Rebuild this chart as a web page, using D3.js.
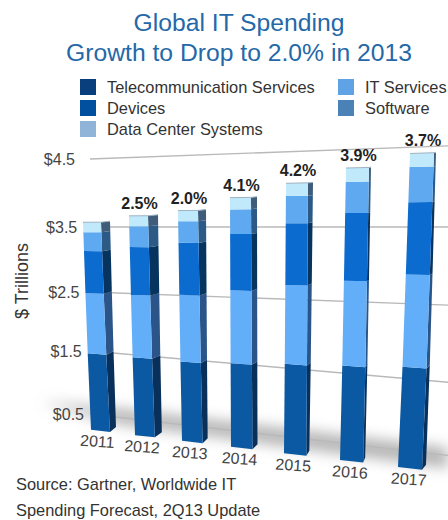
<!DOCTYPE html>
<html>
<head>
<meta charset="utf-8">
<script src="https://cdn.jsdelivr.net/npm/d3@7"></script>
<style>
  html, body { margin: 0; padding: 0; background: #fff; }
  svg { display: block; font-family: "Liberation Sans", Arial, sans-serif; }
</style>
</head>
<body>
<svg id="chart" width="448" height="520"></svg>
<script>
// Spending by segment, $ trillions
const years = [2011, 2012, 2013, 2014, 2015, 2016, 2017];
const telecom = [1.47, 1.47, 1.47, 1.51, 1.57, 1.61, 1.66];
const itServices = [1.01, 1.01, 1.04, 1.09, 1.13, 1.17, 1.22];
const devices = [0.65, 0.72, 0.76, 0.80, 0.85, 0.90, 0.93];
const software = [0.29, 0.31, 0.31, 0.34, 0.36, 0.40, 0.44];
const dataCenter = [0.15, 0.15, 0.15, 0.16, 0.17, 0.18, 0.17];
const growthLabels = [null, "2.5%", "2.0%", "4.1%", "4.2%", "3.9%", "3.7%"];
const tickValues = [0.5, 1.5, 2.5, 3.5, 4.5];
const tickLabels = ["$0.5", "$1.5", "$2.5", "$3.5", "$4.5"];
const legendLeft = ["Telecommunication Services", "Devices", "Data Center Systems"];
const legendRight = ["IT Services", "Software"];

const series = [telecom, itServices, devices, software, dataCenter];
const frontColors = ["#0b58a3", "#63aef8", "#0b6bcf", "#5fa9f0", "#c0e9fc"];
const sideColors = ["#08305a", "#2b5488", "#07335f", "#2c5a86", "#3f5d7b"];

const svg = d3.select("#chart");

// The back wall is seen in perspective: the value scale differs at its two ends.
const axisDomain = [0.35, ...tickValues];
const leftX = 90, rightX = 445;
const yLeft = d3.scaleLinear().domain(axisDomain).range([429, 414, 351, 292, 227, 159]).clamp(true);
const yRight = d3.scaleLinear().domain(axisDomain).range([472, 455, 382, 305, 227, 146]).clamp(true);
const along = d3.scaleLinear().domain([leftX, rightX]).range([0, 1]);
const wallY = (v, x) => d3.interpolateNumber(yLeft(v), yRight(v))(along(x));

// Bars lean with the camera, so their foot and head sit on separate x scales.
const baseX = d3.scaleLinear().domain(years).range([91, 135, 182, 231, 284, 340, 398]);
const headX = d3.scaleLinear().domain(years).range([83, 129, 178, 230, 286, 346, 410]);
const baseW = d3.scaleLinear().domain([2011, 2017]).range([19, 24]);
const headW = d3.scaleLinear().domain([2011, 2017]).range([18, 24]);
const sideBase = d3.scaleLinear().domain(years).range([6, 7, 5, 5, 3, 2, 4]);
const sideHead = d3.scaleLinear().domain(years).range([9, 10, 8, 6, 5, 2, 2]);
const sideLift = d3.scaleLinear().domain([0, 4.5]).range([5, 0]);

const totals = years.map((_, i) => d3.sum(series, s => s[i]));

// Floor shadow
const defs = svg.append("defs");
defs.append("filter").attr("id", "soft").attr("x", "-20%").attr("y", "-100%").attr("width", "140%").attr("height", "300%")
  .append("feGaussianBlur").attr("stdDeviation", 7);
const floorLine = d3.line().x(d => d[0]).y(d => d[1]);
svg.append("path")
  .attr("d", floorLine([[40, 402], [130, 410], [448, 448], [448, 468], [120, 424]]) + "Z")
  .attr("fill", "#9a9a9a").attr("opacity", 0.75).attr("filter", "url(#soft)");

// Wall gridlines
svg.append("g").selectAll("line").data(tickValues).join("line")
  .attr("x1", leftX).attr("x2", rightX + 3)
  .attr("y1", d => wallY(d, leftX)).attr("y2", d => wallY(d, rightX + 3))
  .attr("stroke", "#b9b9b9").attr("stroke-width", 1.4);

// Tick labels step inward down the axis
const tickX = d3.scaleLinear().domain([4.5, 0.5]).range([75, 84]);
svg.append("g").selectAll("text").data(tickValues).join("text")
  .attr("x", d => tickX(d)).attr("y", d => wallY(d, leftX) + 6)
  .attr("text-anchor", "end").attr("font-size", 16).attr("fill", "#444")
  .text((d, i) => tickLabels[i]);

svg.append("text")
  .attr("transform", "translate(28,281) rotate(-90)")
  .attr("text-anchor", "middle").attr("font-size", 18).attr("fill", "#333")
  .text("$ Trillions");

// Stacked columns
const barG = svg.append("g").selectAll("g").data(years).join("g");
barG.each(function (year, i) {
  const g = d3.select(this);
  const total = totals[i];
  const xL = v => baseX(year) + (headX(year) - baseX(year)) * Math.max(v, 0) / total;
  const w = v => baseW(year) + (headW(year) - baseW(year)) * v / total;
  const sw = v => sideBase(year) + (sideHead(year) - sideBase(year)) * v / total;
  const corners = v => {
    const l = xL(v), r = l + w(v);
    return { l, r, yl: wallY(v, l + 6), yr: wallY(v, r + 4), bx: r + sw(v), by: wallY(v, r + 4) - sideLift(v) };
  };
  let acc = 0;
  series.forEach((s, k) => {
    const a = corners(acc), b = corners(acc + s[i]);
    g.append("path")
      .attr("d", floorLine([[a.r, a.yr], [a.bx, a.by], [b.bx, b.by], [b.r, b.yr]]) + "Z")
      .attr("fill", sideColors[k]);
    g.append("path")
      .attr("d", floorLine([[a.l, a.yl], [a.r, a.yr], [b.r, b.yr], [b.l, b.yl]]) + "Z")
      .attr("fill", frontColors[k]);
    acc += s[i];
  });
  const top = corners(total);
  g.append("path")
    .attr("d", floorLine([[top.l, top.yl], [top.r, top.yr], [top.bx, top.by]]))
    .attr("fill", "none").attr("stroke", "#9fb2c0").attr("stroke-width", 1);

  if (growthLabels[i]) {
    g.append("text")
      .attr("x", top.l + w(total) / 2 + 1).attr("y", top.yl - 7)
      .attr("text-anchor", "middle").attr("font-size", 16).attr("font-weight", "bold").attr("fill", "#222")
      .text(growthLabels[i]);
  }
  const foot = corners(0);
  g.append("text")
    .attr("transform", `translate(${foot.l + w(0) / 2 + (year - 2011) * 0.3 - 3.5},${foot.yr + 15}) rotate(4)`)
    .attr("text-anchor", "middle").attr("font-size", 16).attr("fill", "#444")
    .text(year);
});

// Title
svg.append("g").selectAll("text").data(["Global IT Spending", "Growth to Drop to 2.0% in 2013"]).join("text")
  .attr("x", 239).attr("y", (d, i) => 31 + i * 30)
  .attr("text-anchor", "middle").attr("font-size", 24.7).attr("fill", "#2468a8")
  .text(d => d);

// Legend
const legendRows = [
  { x: 80, y: 79, label: legendLeft[0], color: "#0a3f7d" },
  { x: 80, y: 100, label: legendLeft[1], color: "#00509f" },
  { x: 80, y: 121, label: legendLeft[2], color: "#8fb4d8" },
  { x: 338, y: 79, label: legendRight[0], color: "#5fa2e6" },
  { x: 338, y: 100, label: legendRight[1], color: "#4a82b8" }
];
const legendG = svg.append("g").selectAll("g").data(legendRows).join("g");
legendG.append("rect").attr("x", d => d.x).attr("y", d => d.y).attr("width", 16).attr("height", 16)
  .attr("fill", d => d.color);
legendG.append("text").attr("x", d => d.x + 27).attr("y", d => d.y + 14)
  .attr("font-size", 16.4).attr("fill", "#333").text(d => d.label);

// Source note
svg.append("g").selectAll("text")
  .data(["Source: Gartner, Worldwide IT", "Spending Forecast, 2Q13 Update"]).join("text")
  .attr("x", 16).attr("y", (d, i) => 490 + i * 26)
  .attr("font-size", 16.4).attr("fill", "#333")
  .text(d => d);
</script>
</body>
</html>
